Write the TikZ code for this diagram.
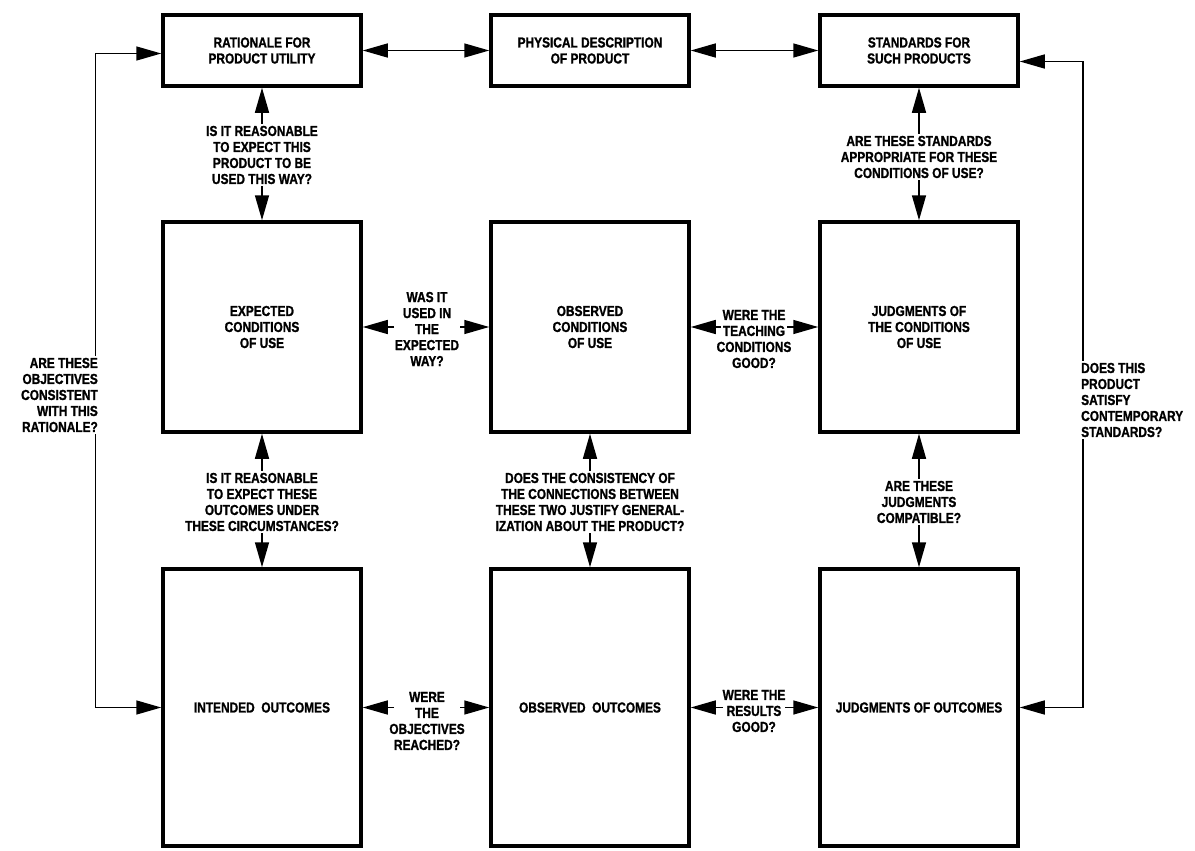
\documentclass[tikz,border=0pt]{standalone}
\usepackage{fontspec}
\setmainfont{Liberation Sans}[FakeStretch=0.82, BoldFeatures={FakeBold=1.2}]
\usetikzlibrary{arrows.meta}
\newcommand{\qfont}{\bfseries\fontsize{14.5}{16}\selectfont}
\tikzset{
  block/.style={draw, line width=3.5pt, minimum width=198pt, inner sep=0pt, align=center, font=\qfont},
  ques/.style={align=center, inner sep=2pt, font=\qfont},
  link/.style={line width=1.5pt, -{Triangle[length=25pt,width=14pt]}},
  twoway/.style={line width=1.5pt, {Triangle[length=25pt,width=14pt]}-{Triangle[length=25pt,width=14pt]}},
}
\begin{document}
\begin{tikzpicture}[x=1pt,y=-1pt]
        \useasboundingbox (0,0) rectangle (1195,851);

        % top row
        \node[block, minimum height=71pt] (rat) at (262,50.5) {RATIONALE FOR\\PRODUCT UTILITY};
        \node[block, minimum height=71pt] (phy) at (590,50.5) {PHYSICAL DESCRIPTION\\OF PRODUCT};
        \node[block, minimum height=71pt] (std) at (919,50.5) {STANDARDS FOR\\SUCH PRODUCTS};

        % middle row
        \node[block, minimum height=210pt] (expc) at (262,327) {EXPECTED\\CONDITIONS\\OF USE};
        \node[block, minimum height=210pt] (obsc) at (590,327) {OBSERVED\\CONDITIONS\\OF USE};
        \node[block, minimum height=210pt] (judc) at (919,327) {JUDGMENTS OF\\THE CONDITIONS\\OF USE};

        % bottom row
        \node[block, minimum height=277pt] (intd) at (262,707.5) {INTENDED\ \ OUTCOMES};
        \node[block, minimum height=277pt] (obso) at (590,707.5) {OBSERVED\ \ OUTCOMES};
        \node[block, minimum height=277pt] (judo) at (919,707.5) {JUDGMENTS OF OUTCOMES};

        % top links
        \draw[twoway] (rat) -- (phy);
        \draw[twoway] (phy) -- (std);

        % questions between rows
        \node[ques] (qway) at (262,155) {IS IT REASONABLE\\TO EXPECT THIS\\PRODUCT TO BE\\USED THIS WAY?};
        \draw[link] (qway) -- (rat);
        \draw[link] (qway) -- (expc);

        \node[ques] (qstd) at (919,157) {ARE THESE STANDARDS\\APPROPRIATE FOR THESE\\CONDITIONS OF USE?};
        \draw[link] (qstd) -- (std);
        \draw[link] (qstd) -- (judc);

        \node[ques] (qcirc) at (262,502) {IS IT REASONABLE\\TO EXPECT THESE\\OUTCOMES UNDER\\THESE CIRCUMSTANCES?};
        \draw[link] (qcirc) -- (expc);
        \draw[link] (qcirc) -- (intd);

        \node[ques] (qgen) at (590,502) {DOES THE CONSISTENCY OF\\THE CONNECTIONS BETWEEN\\THESE TWO JUSTIFY GENERAL-\\IZATION ABOUT THE PRODUCT?};
        \draw[link] (qgen) -- (obsc);
        \draw[link] (qgen) -- (obso);

        \node[ques] (qcomp) at (919,502) {ARE THESE\\JUDGMENTS\\COMPATIBLE?};
        \draw[link] (qcomp) -- (judc);
        \draw[link] (qcomp) -- (judo);

        % questions between columns
        \node[ques] (qused) at (427,329) {WAS IT\\USED IN\\THE\\EXPECTED\\WAY?};
        \draw[link] ([xshift=-33pt]qused.center |- expc) -- (expc.east);
        \draw[link] ([xshift=33pt]qused.center |- obsc) -- (obsc.west);

        \node[ques] (qteach) at (754,339) {WERE THE\\TEACHING\\CONDITIONS\\GOOD?};
        \draw[link] ([xshift=-33pt]qteach.center |- obsc) -- (obsc.east);
        \draw[link] ([xshift=33pt]qteach.center |- judc) -- (judc.west);

        \node[ques] (qreach) at (427,721) {WERE\\THE\\OBJECTIVES\\REACHED?};
        \draw[link] ([xshift=-33pt]qreach.center |- intd) -- (intd.east);
        \draw[link] ([xshift=33pt]qreach.center |- obso) -- (obso.west);

        \node[ques] (qgood) at (754,711) {WERE THE\\RESULTS\\GOOD?};
        \draw[link] ([xshift=-31pt]qgood.center |- obso) -- (obso.east);
        \draw[link] ([xshift=31pt]qgood.center |- judo) -- (judo.west);

        % outer loops
        \draw[twoway] ([yshift=-3pt]rat.west) -- ++(-66,0) |- (intd.west);
        \node[ques, fill=white, align=right, anchor=east] (qobj) at (100,395) {ARE THESE\\OBJECTIVES\\CONSISTENT\\WITH THIS\\RATIONALE?};

        \draw[twoway] ([yshift=-11pt]std.east) -- ++(63,0) |- (judo.east);
        \node[ques, fill=white, align=left, anchor=west] (qsat) at (1079,400) {DOES THIS\\PRODUCT\\SATISFY\\CONTEMPORARY\\STANDARDS?};
    \end{tikzpicture}
\end{document}
